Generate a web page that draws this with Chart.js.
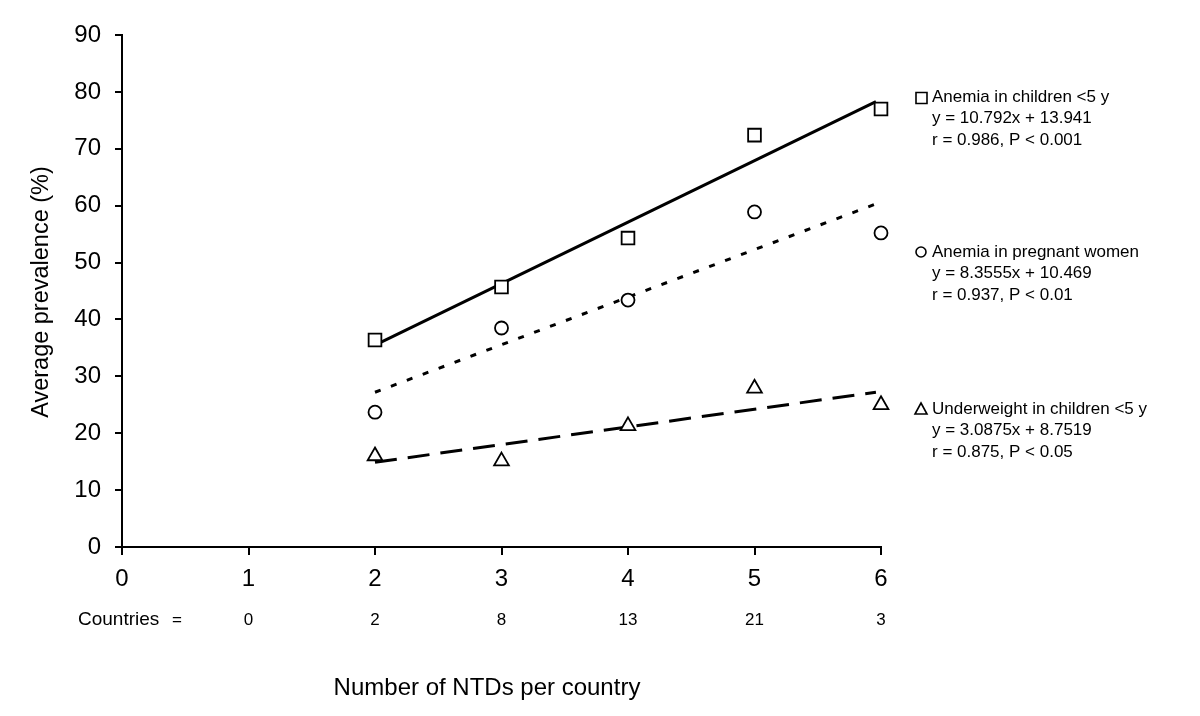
<!DOCTYPE html>
<html>
<head>
<meta charset="utf-8">
<script src="https://cdn.jsdelivr.net/npm/chart.js@4"></script>
<style>
  html, body { margin: 0; padding: 0; background: #fff; }
  #wrap { width: 1200px; height: 716px; position: relative; }
</style>
</head>
<body>
<div id="wrap"><canvas id="grafico" width="1200" height="716"></canvas></div>
<script>
const nNTDs = [2, 3, 4, 5, 6];
const anemiaCriancas = [36.4, 45.7, 54.3, 72.4, 77.0];
const anemiaGravidas = [23.7, 38.5, 43.4, 58.9, 55.2];
const baixoPeso = [16.0, 15.1, 21.3, 27.9, 25.0];

// trend lines, ends at x = 2 and just before x = 6
const tendX = [2, 5.96];
const tendCriancas = [35.5, 78.3];
const tendGravidas = [27.2, 60.3];
const tendPeso = [14.9, 27.2];

const paises = [0, 2, 8, 13, 21, 3];   // countries for x = 1..6

const legendas = [
  { simbolo: 'rect', linhas: ['Anemia in children <5 y', 'y = 10.792x + 13.941', 'r = 0.986, P < 0.001'] },
  { simbolo: 'circle', linhas: ['Anemia in pregnant women', 'y = 8.3555x + 10.469', 'r = 0.937, P < 0.01'] },
  { simbolo: 'triangle', linhas: ['Underweight in children <5 y', 'y = 3.0875x + 8.7519', 'r = 0.875, P < 0.05'] }
];

const fonte = 'Liberation Sans, Arial, sans-serif';

function pontos(xs, ys) {
  return xs.map((x, i) => ({ x: x, y: ys[i] }));
}

function marcador(label, ys, estilo, raio) {
  return {
    label: label,
    data: pontos(nNTDs, ys),
    showLine: false,
    pointStyle: estilo,
    pointRadius: raio,
    pointBackgroundColor: '#fff',
    pointBorderColor: '#000',
    pointBorderWidth: 1.8,
    clip: false,
    order: 1
  };
}

function tendencia(ys, tracejado) {
  return {
    data: pontos(tendX, ys),
    showLine: true,
    borderColor: '#000',
    borderWidth: 3,
    borderDash: tracejado,
    pointRadius: 0,
    fill: false,
    clip: false,
    order: 2
  };
}

const extras = {
  id: 'extras',
  afterDraw(chart) {
    const ctx = chart.ctx;
    const x = chart.scales.x;
    ctx.save();
    ctx.fillStyle = '#000';

    // countries row
    ctx.textBaseline = 'middle';
    ctx.textAlign = 'left';
    ctx.font = '19px ' + fonte;
    ctx.fillText('Countries', 78, 620);
    ctx.font = '17px ' + fonte;
    ctx.fillText('=', 172, 620);
    ctx.textAlign = 'center';
    paises.forEach((p, i) => ctx.fillText(String(p), x.getPixelForValue(i + 1), 620));

    // axis titles
    ctx.font = '24px ' + fonte;
    ctx.fillText('Number of NTDs per country', 487, 688);
    ctx.save();
    ctx.translate(42, 292);
    ctx.rotate(-Math.PI / 2);
    ctx.font = '23.5px ' + fonte;
    ctx.fillText('Average prevalence (%)', 0, 0);
    ctx.restore();

    // legend blocks
    const topos = [97, 252, 409];
    ctx.font = '17px ' + fonte;
    ctx.textAlign = 'left';
    legendas.forEach((l, i) => {
      const y0 = topos[i];
      ctx.lineWidth = 1.6;
      ctx.strokeStyle = '#000';
      ctx.beginPath();
      if (l.simbolo === 'rect') {
        ctx.rect(916, y0 - 4.5, 11, 11);
      } else if (l.simbolo === 'circle') {
        ctx.arc(921, y0, 5, 0, Math.PI * 2);
      } else {
        ctx.moveTo(921, y0 - 6);
        ctx.lineTo(927, y0 + 5);
        ctx.lineTo(915, y0 + 5);
        ctx.closePath();
      }
      ctx.stroke();
      l.linhas.forEach((t, j) => ctx.fillText(t, 932, y0 + j * 21.5));
    });
    ctx.restore();
  }
};

new Chart(document.getElementById('grafico'), {
  type: 'scatter',
  data: {
    datasets: [
      marcador('Anemia in children <5 y', anemiaCriancas, 'rect', 9),
      marcador('Anemia in pregnant women', anemiaGravidas, 'circle', 6.5),
      marcador('Underweight in children <5 y', baixoPeso, 'triangle', 8.5),
      tendencia(tendCriancas, []),
      tendencia(tendGravidas, [6, 11]),
      tendencia(tendPeso, [22, 11])
    ]
  },
  options: {
    responsive: false,
    animation: false,
    layout: { padding: { top: 35, right: 319, bottom: 0, left: 0 } },
    plugins: {
      legend: { display: false },
      tooltip: { enabled: false }
    },
    scales: {
      x: {
        type: 'linear',
        min: 0,
        max: 6,
        ticks: { stepSize: 1, color: '#000', font: { family: fonte, size: 24 }, padding: 10 },
        grid: { drawOnChartArea: false, drawTicks: true, tickLength: 8, color: '#000', lineWidth: 2 },
        border: { display: true, color: '#000', width: 2 },
        afterFit(s) { s.height = 169; }
      },
      y: {
        min: 0,
        max: 90,
        ticks: { stepSize: 10, color: '#000', font: { family: fonte, size: 24 }, padding: 14 },
        grid: { drawOnChartArea: false, drawTicks: true, tickLength: 7, color: '#000', lineWidth: 2 },
        border: { display: true, color: '#000', width: 2 },
        afterFit(s) { s.width = 122; }
      }
    }
  },
  plugins: [extras]
});
</script>
</body>
</html>
